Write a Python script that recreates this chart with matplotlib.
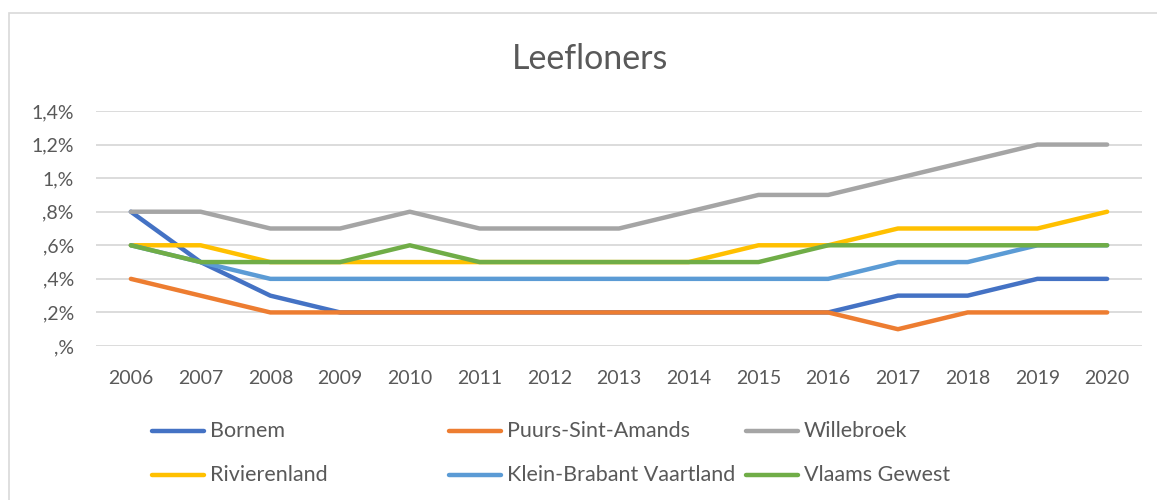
import matplotlib.pyplot as plt
from matplotlib.lines import Line2D
from matplotlib.patches import Rectangle
from matplotlib.ticker import FuncFormatter

# data (percent)
years = [2006, 2007, 2008, 2009, 2010, 2011, 2012, 2013, 2014, 2015, 2016, 2017, 2018, 2019, 2020]
bornem = [0.8, 0.5, 0.3, 0.2, 0.2, 0.2, 0.2, 0.2, 0.2, 0.2, 0.2, 0.3, 0.3, 0.4, 0.4]
puurs = [0.4, 0.3, 0.2, 0.2, 0.2, 0.2, 0.2, 0.2, 0.2, 0.2, 0.2, 0.1, 0.2, 0.2, 0.2]
willebroek = [0.8, 0.8, 0.7, 0.7, 0.8, 0.7, 0.7, 0.7, 0.8, 0.9, 0.9, 1.0, 1.1, 1.2, 1.2]
rivierenland = [0.6, 0.6, 0.5, 0.5, 0.5, 0.5, 0.5, 0.5, 0.5, 0.6, 0.6, 0.7, 0.7, 0.7, 0.8]
klein_brabant = [0.6, 0.5, 0.4, 0.4, 0.4, 0.4, 0.4, 0.4, 0.4, 0.4, 0.4, 0.5, 0.5, 0.6, 0.6]
vlaams = [0.6, 0.5, 0.5, 0.5, 0.6, 0.5, 0.5, 0.5, 0.5, 0.5, 0.6, 0.6, 0.6, 0.6, 0.6]

names = ["Bornem", "Puurs-Sint-Amands", "Willebroek", "Rivierenland",
         "Klein-Brabant Vaartland", "Vlaams Gewest"]
series = [bornem, puurs, willebroek, rivierenland, klein_brabant, vlaams]
colors = ["#4472C4", "#ED7D31", "#A5A5A5", "#FFC000", "#5B9BD5", "#70AD47"]

plt.rcParams["font.family"] = ["Lato", "DejaVu Sans"]
TXT = "#595959"
W, H = 1157, 500


def excel_pct(v, pos):
    # Excel-style ",%" format: 0.8 -> ",8%", 1.0 -> "1,%", 0 -> ",%"
    tenths = int(round(v * 10))
    whole, dec = divmod(tenths, 10)
    return f"{whole if whole else ''},{dec if dec else ''}%"


fig = plt.figure(figsize=(W / 100, H / 100), dpi=100)
ax = fig.add_axes([96 / W, 1 - 346 / H, (1142 - 96) / W, (346 - 111) / H])

x = list(range(len(years)))
for vals, c in zip(series, colors):
    ax.plot(x, vals, color=c, lw=3.2, solid_capstyle="round", solid_joinstyle="round")

ax.set_xlim(-0.5, len(years) - 0.5)
ax.set_ylim(0, 1.4)
ax.set_yticks([i / 5 for i in range(8)])
ax.yaxis.set_major_formatter(FuncFormatter(excel_pct))
ax.set_xticks(x)
ax.set_xticklabels([str(y) for y in years])
ax.grid(axis="y", color="#D9D9D9", lw=1.3)
ax.set_axisbelow(True)
for s in ax.spines.values():
    s.set_visible(False)
ax.tick_params(length=0, labelsize=14, colors=TXT)
ax.tick_params(axis="y", pad=16)
ax.tick_params(axis="x", pad=17)

fig.text(590 / W, 1 - 59 / H, "Leefloners", ha="center", va="center", fontsize=24.5, color=TXT)

# legend, equal-width columns like Excel
for i, (name, c) in enumerate(zip(names, colors)):
    col, row = i % 3, i // 3
    x0 = 152 + col * 297
    y0 = 1 - (431 + row * 44) / H
    fig.add_artist(Line2D([x0 / W, (x0 + 52) / W], [y0, y0], transform=fig.transFigure,
                          color=c, lw=3.2, solid_capstyle="round"))
    fig.text((x0 + 58) / W, y0, name, ha="left", va="center", fontsize=15.5, color=TXT)

# chart border
fig.add_artist(Rectangle((9 / W, -0.05), 1.1, 1 - 13 / H + 0.05, transform=fig.transFigure,
                         fill=False, edgecolor="#D9D9D9", lw=1.2))

fig.savefig("out.png", dpi=100)
